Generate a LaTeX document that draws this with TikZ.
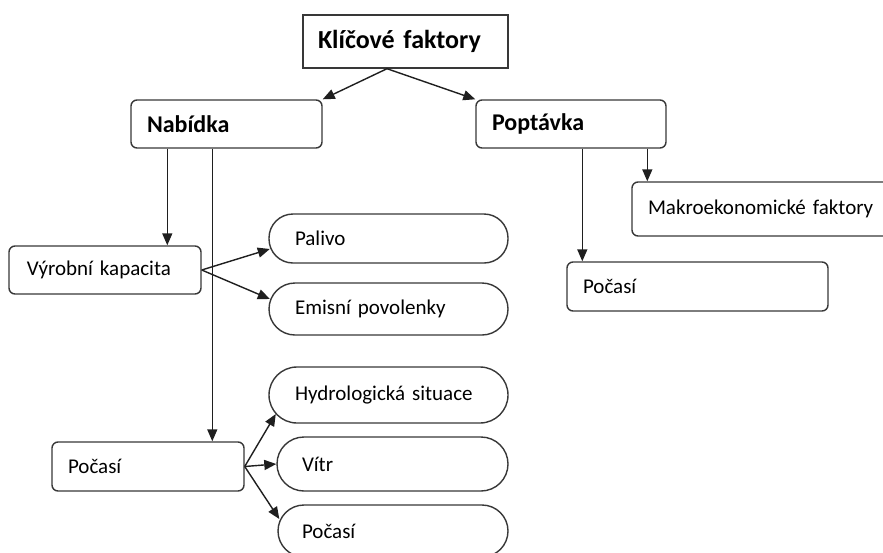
\documentclass[tikz,border=0pt]{standalone}
\usepackage{fontspec}
\setmainfont{Carlito}
\usetikzlibrary{arrows.meta}
\newcommand{\tightsp}{\spaceskip=0.2em plus 0.05em minus 0.02em\relax}
\begin{document}
\begin{tikzpicture}[x=1pt,y=-1pt,
  base/.style={draw=black!78, line width=1.4pt, inner ysep=0pt, align=left, text=black},
  sq/.style={base, font=\bfseries\fontsize{26}{30}\selectfont\tightsp},
  hd/.style={base, rounded corners=6pt, font=\bfseries\fontsize{24}{28}\selectfont\tightsp},
  bx/.style={base, rounded corners=6pt, font=\fontsize{21}{25}\selectfont\tightsp},
  ov/.style={base, rounded corners=#1, font=\fontsize{21}{25}\selectfont\tightsp},
  arr/.style={draw=black!88, line width=1.4pt, -{Triangle[length=12pt,width=10pt]}}
]
\useasboundingbox (0,0) rectangle (883,552);
\clip (0,0) rectangle (883,552);
\fill[white] (0,0) rectangle (883,552);

\node[sq, text width=175pt, inner xsep=15pt, minimum height=53pt] (kf) at (405.5,41.5) {Klíčové faktory};
\node[hd, text width=159pt, inner xsep=16pt, minimum height=48pt] (nab) at (226.5,124) {Nabídka};
\node[hd, text width=158pt, inner xsep=16pt, minimum height=48pt] (pop) at (571,124) {Poptávka};

\node[bx, text width=156pt, inner xsep=18pt, minimum height=48pt] (vk) at (105,270) {Výrobní kapacita};
\node[ov=24pt, text width=187pt, inner xsep=26pt, minimum height=49pt] (pal) at (388.5,238.5) {Palivo};
\node[ov=26pt, text width=187pt, inner xsep=26pt, minimum height=52pt] (emi) at (388.5,309) {Emisní povolenky};

\node[bx, text width=160pt, inner xsep=16pt, minimum height=49pt] (poc1) at (148,466.5) {Počasí};
\node[ov=28pt, text width=187pt, inner xsep=26pt, minimum height=56pt] (hyd) at (388.5,395) {Hydrologická situace};
\node[ov=27pt, text width=181pt, inner xsep=25pt, minimum height=54pt] (vit) at (392.5,464) {Vítr};
\node[ov=26pt, text width=182pt, inner xsep=24pt, minimum height=52pt] (poc3) at (393,531) {Počasí};

\node[bx, text width=238pt, inner xsep=16pt, minimum height=54pt] (mak) at (767,209) {Makroekonomické faktory};
\node[bx, text width=229pt, inner xsep=16pt, minimum height=49pt] (poc2) at (697.5,286.5) {Počasí};

\draw[arr] ([xshift=-18.5pt]kf.south) -- (nab.north east);
\draw[arr] ([xshift=-18.5pt]kf.south) -- (pop.north west);

\draw[arr] ([xshift=37pt]nab.south west) coordinate (n1) -- (n1 |- vk.north);
\draw[arr] ([xshift=82pt]nab.south west) coordinate (n2) -- (n2 |- poc1.north);
\draw[arr] ([xshift=107pt]pop.south west) coordinate (p1) -- (p1 |- poc2.north);
\draw[arr] ([xshift=172pt]pop.south west) coordinate (p2) -- (p2 |- mak.north);

\draw[arr] (vk.east) -- ([xshift=1.5pt,yshift=-10.5pt]pal.west);
\draw[arr] (vk.east) -- ([xshift=1.5pt,yshift=10pt]emi.west);

\draw[arr] (poc1.east) -- ([xshift=7.5pt,yshift=-19pt]hyd.west);
\draw[arr] (poc1.east) -- (vit.west);
\draw[arr] (poc1.east) -- ([xshift=2pt,yshift=12pt]poc3.west);
\end{tikzpicture}
\end{document}
